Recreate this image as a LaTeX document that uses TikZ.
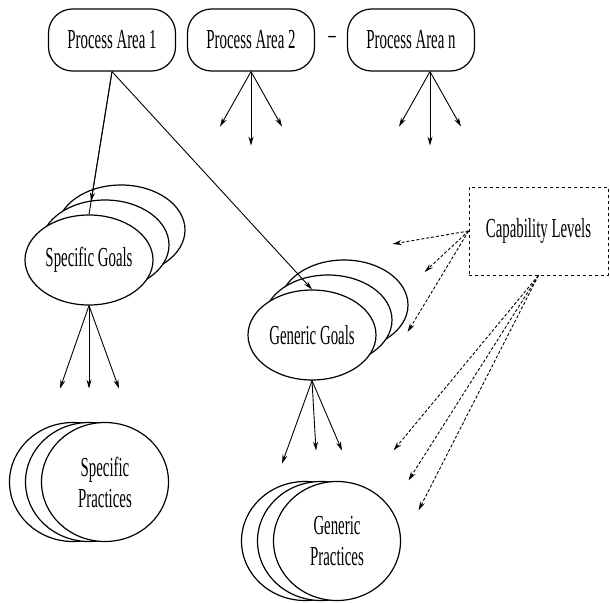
\documentclass[tikz,border=0pt]{standalone}
\usepackage{fontspec}
\setmainfont{Liberation Serif}[FakeStretch=0.54]
\usetikzlibrary{shapes.geometric,arrows.meta,calc}
\tikzset{
    area-box/.style = {draw, line width=1.2pt, rounded corners=24pt, minimum width=127pt, minimum height=62pt, inner sep=0pt},
    goal-ellipse/.style = {draw, fill=white, ellipse, line width=1.2pt, minimum width=128pt, minimum height=90pt, inner sep=0pt},
    practice-circle/.style = {draw, fill=white, ellipse, line width=1.2pt, minimum width=127pt, minimum height=119pt, inner sep=0pt, align=center},
    level-box/.style = {draw, dashed, line width=0.8pt, minimum width=139pt, minimum height=88pt},
    arrow-line/.style = {-{Stealth[length=9pt,width=5pt]}, line width=0.9pt},
    level-arrow/.style = {arrow-line, densely dashed},
}

\begin{document}
\begin{tikzpicture}[x=1pt, y=-1pt, font=\fontsize{27.5}{31}\selectfont]
\useasboundingbox (0,0) rectangle (610,602);

% process areas
\node [area-box] (pa1) at (112,40) {Process Area 1};
\node [area-box] (pa2) at (251,40) {Process Area 2};
\node (dots) at (332,40) {--};
\node [area-box] (pan) at (411,40) {Process Area n};

% goals, stacked
\node [goal-ellipse] (sg-back) at (121,230) {};
\node [goal-ellipse] (sg-mid) at (105,245) {};
\node [goal-ellipse] (sg) at (89,260) {Specific Goals};
\node [goal-ellipse] (gg-back) at (344,305) {};
\node [goal-ellipse] (gg-mid) at (328,320) {};
\node [goal-ellipse] (gg) at (312,335) {Generic Goals};

% practices, stacked
\node [practice-circle] (sp-back) at (73,482) {};
\node [practice-circle] (sp-mid) at (89,482) {};
\node [practice-circle] (sp) at (105,482) {Specific\\Practices};
\node [practice-circle] (gp-back) at (305,541) {};
\node [practice-circle] (gp-mid) at (321,541) {};
\node [practice-circle] (gp) at (337,541) {Generic\\Practices};

\node [level-box] (cl) at (538.5,231) {Capability Levels};

\draw [line width=0.9pt] (pa1.south) -- (sg.north);
\draw [arrow-line] (pa1.south) -- ($(pa1.south)!0.91!(sg.north)$);
\draw [arrow-line] (pa1.south) -- (gg.north);

\foreach \dx/\dy in {-31/55, 0/74, 31/55} {
    \draw [arrow-line] (pa2.south) -- ++(\dx,\dy);
    \draw [arrow-line] ([xshift=19pt]pan.south) -- ++(\dx,\dy);
}
\foreach \dx in {-29, 0, 30}
    \draw [arrow-line] (sg.south) -- ++(\dx,83);
\foreach \dx/\dy in {-30/83, 4/70, 30/70}
    \draw [arrow-line] (gg.south) -- ++(\dx,\dy);

\foreach \dx/\dy in {-76/13, -44/41, -61/101}
    \draw [level-arrow] (cl.west) -- ++(\dx,\dy);
\foreach \dx/\dy in {-145/175, -130/205, -120/235}
    \draw [level-arrow] (cl.south) -- ++(\dx,\dy);
\end{tikzpicture}
\end{document}
